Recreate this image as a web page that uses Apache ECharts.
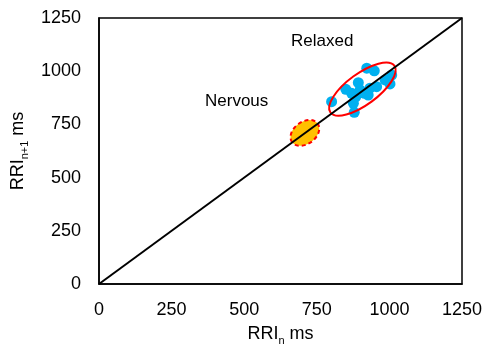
<!DOCTYPE html>
<html>
<head>
<meta charset="utf-8">
<script src="https://cdn.jsdelivr.net/npm/echarts@6/dist/echarts.min.js"></script>
<style>
  html, body { margin: 0; padding: 0; background: #fff; }
  #chart { width: 490px; height: 344px; }
</style>
</head>
<body>
<div id="chart"></div>
<script>
// RRI(n) vs RRI(n+1) scatter
const rriN = [801, 850, 870, 893, 884, 876, 879, 914, 927, 933, 956, 922, 948, 985, 1002, 1008, 899]
const rriN1 = [857, 915, 896, 946, 880, 849, 807, 896, 888, 920, 927, 1014, 1002, 959, 940, 982, 912]
const identityLine = [[0, 0], [1250, 1250]]

// ellipse: centre x, centre y, half length along diagonal, half width (data units)
const relaxedEllipse = [907, 916, 110, 73]
const nervousEllipse = [709, 710, 44, 52]

const chart = echarts.init(document.getElementById('chart'))

const points = rriN.map((x, i) => [x, rriN1[i]])

function ellipseItem(params, api) {
  const cx = api.value(0), cy = api.value(1)
  const c = api.coord([cx, cy])
  const p = api.coord([cx + api.value(2), cy + api.value(2)])
  const dx = p[0] - c[0], dy = p[1] - c[1]
  const rx = Math.sqrt(dx * dx + dy * dy)
  const ry = api.size([0, api.value(3)])[1]
  const nervous = params.seriesName === 'nervous'
  return {
    type: 'ellipse',
    x: c[0],
    y: c[1],
    rotation: Math.atan2(-dy, dx),
    shape: { cx: 0, cy: 0, rx: rx, ry: ry },
    style: {
      fill: nervous ? '#FFC000' : 'none',
      stroke: '#FF0000',
      lineWidth: 2,
      lineDash: nervous ? [4, 3] : null
    }
  }
}

const font = 'Liberation Sans, Arial'

const axisCommon = {
  type: 'value',
  min: 0,
  max: 1250,
  interval: 250,
  axisLine: { show: true, lineStyle: { color: '#000', width: 1.5 } },
  axisTick: { show: false },
  splitLine: { show: false },
  axisLabel: { color: '#000', fontSize: 18, fontFamily: font, formatter: v => String(v) },
  nameLocation: 'middle',
  nameTextStyle: {
    color: '#000', fontSize: 18, fontFamily: font,
    rich: {
      b: { fontSize: 18, color: '#000', fontFamily: font, lineHeight: 22, verticalAlign: 'bottom' },
      s: { fontSize: 11, color: '#000', fontFamily: font, lineHeight: 22, verticalAlign: 'bottom', padding: [0, 0, -3, 0] }
    }
  }
}

const option = {
  backgroundColor: '#fff',
  animation: false,
  grid: {
    left: 99, right: 28, top: 18, bottom: 60,
    outerBoundsMode: 'none',
    containLabel: false,
    show: true, borderColor: '#000', borderWidth: 1.5, backgroundColor: 'transparent'
  },
  xAxis: Object.assign({}, axisCommon, {
    name: '{b|RRI}{s|n}{b| ms}',
    nameGap: 37,
    axisLabel: Object.assign({}, axisCommon.axisLabel, { margin: 17 })
  }),
  yAxis: Object.assign({}, axisCommon, {
    name: '{b|RRI}{s|n+1}{b| ms}',
    nameGap: 55,
    axisLabel: Object.assign({}, axisCommon.axisLabel, { margin: 18 })
  }),
  series: [
    {
      name: 'points',
      type: 'scatter',
      data: points,
      symbolSize: 11,
      itemStyle: { color: '#00B0F0', opacity: 1 },
      z: 1
    },
    {
      name: 'relaxed',
      type: 'custom',
      data: [relaxedEllipse],
      renderItem: ellipseItem,
      z: 3
    },
    {
      name: 'nervous',
      type: 'custom',
      data: [nervousEllipse],
      renderItem: ellipseItem,
      z: 2
    },
    {
      name: 'identity',
      type: 'line',
      data: identityLine,
      showSymbol: false,
      symbol: 'none',
      lineStyle: { color: '#000', width: 2 },
      z: 4
    }
  ],
  graphic: [
    {
      type: 'text', left: 291, top: 33,
      style: { text: 'Relaxed', fontSize: 17, fill: '#000', fontFamily: font }
    },
    {
      type: 'text', left: 205, top: 93,
      style: { text: 'Nervous', fontSize: 17, fill: '#000', fontFamily: font }
    }
  ]
}

chart.setOption(option)
</script>
</body>
</html>
